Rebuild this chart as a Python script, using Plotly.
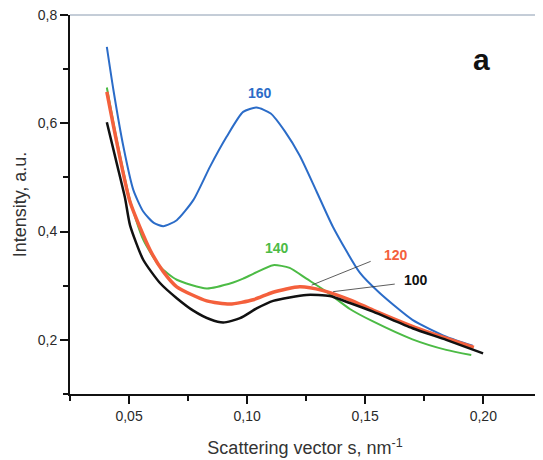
import plotly.graph_objects as go

# ---- data ----
s_160 = [0.0406, 0.0434, 0.0476, 0.0518, 0.0560, 0.0605, 0.0645, 0.0702, 0.0772, 0.0843, 0.0913,
         0.0983, 0.104, 0.110, 0.116, 0.1223, 0.1293, 0.1363, 0.1477, 0.156, 0.170, 0.1843, 0.1955]
i_160 = [0.741, 0.661, 0.557, 0.477, 0.437, 0.416, 0.410, 0.421, 0.458, 0.520, 0.575,
         0.621, 0.629, 0.618, 0.585, 0.540, 0.475, 0.409, 0.324, 0.287, 0.237, 0.206, 0.189]

s_140 = [0.0406, 0.0448, 0.0504, 0.056, 0.0631, 0.0702, 0.0829, 0.0941, 0.0983, 0.1026,
         0.111, 0.118, 0.1251, 0.1336, 0.1435, 0.1533, 0.170, 0.1843, 0.1949]
i_140 = [0.666, 0.569, 0.458, 0.385, 0.335, 0.311, 0.295, 0.306, 0.313, 0.322,
         0.338, 0.333, 0.313, 0.289, 0.257, 0.234, 0.201, 0.1815, 0.172]

s_120 = [0.0406, 0.0448, 0.0504, 0.0589, 0.0645, 0.0702, 0.0829, 0.0927, 0.1026,
         0.111, 0.1223, 0.1322, 0.1435, 0.1533, 0.170, 0.1843, 0.196]
i_120 = [0.658, 0.565, 0.455, 0.366, 0.326, 0.298, 0.272, 0.266, 0.274,
         0.288, 0.298, 0.291, 0.274, 0.255, 0.225, 0.203, 0.186]

s_100 = [0.0406, 0.0448, 0.0483, 0.0504, 0.056, 0.0631, 0.0702, 0.0772, 0.0843, 0.0899,
         0.097, 0.104, 0.111, 0.1251, 0.135, 0.1435, 0.1533, 0.170, 0.1843, 0.1999]
i_100 = [0.602, 0.526, 0.462, 0.412, 0.348, 0.305, 0.277, 0.254, 0.238, 0.232,
         0.240, 0.258, 0.272, 0.283, 0.281, 0.268, 0.252, 0.2215, 0.200, 0.175]

series_names = ["160", "140", "120", "100"]
series_colors = ["#2b6cc8", "#4cbb45", "#f4603c", "#111111"]
series_widths = [2, 2, 3.5, 2.5]

# label positions (data units)
label_s = [0.1054, 0.1126, 0.163, 0.1714]
label_i = [0.656, 0.370, 0.357, 0.311]

# callout lines for 120 and 100: (s0, i0, s1, i1)
callout_120 = (0.1523, 0.345, 0.1273, 0.301)
callout_100 = (0.1625, 0.303, 0.1364, 0.289)

x_range = [0.025, 0.224]
y_range = [0.1, 0.8]

fig = go.Figure()
for xs, ys, name, col, w in zip([s_160, s_140, s_120, s_100], [i_160, i_140, i_120, i_100],
                                series_names, series_colors, series_widths):
    fig.add_trace(go.Scatter(x=xs, y=ys, mode="lines", name=name,
                             line=dict(color=col, width=w, shape="spline", smoothing=0.6),
                             showlegend=False))

for name, col, lx, ly in zip(series_names, series_colors, label_s, label_i):
    fig.add_annotation(x=lx, y=ly, text=f"<b>{name}</b>", showarrow=False,
                       font=dict(family="Liberation Sans, Arial", size=14, color=col))

for c in (callout_120, callout_100):
    fig.add_shape(type="line", x0=c[0], y0=c[1], x1=c[2], y1=c[3], xref="x", yref="y",
                  line=dict(color="#333333", width=0.8))

fig.add_annotation(x=0.1992, y=0.717, text="<b>a</b>", showarrow=False,
                   font=dict(family="Liberation Sans, Arial", size=30, color="#111111"))

# thin top / right frame
fig.add_shape(type="line", xref="paper", yref="paper", x0=0, x1=1, y0=1, y1=1,
              line=dict(color="#8a9bb0", width=1))
fig.add_shape(type="line", xref="paper", yref="paper", x0=1, x1=1, y0=0, y1=1,
              line=dict(color="#8a9bb0", width=1))

axis_font = dict(family="Liberation Sans, Arial", size=14, color="#2a2a2a")
title_font = dict(family="Liberation Sans, Arial", size=18, color="#333333")
fig.update_xaxes(range=x_range, tick0=0.05, dtick=0.05, tickformat=".2f", automargin=False,
                 ticklabeloverflow="allow",
                 showgrid=False, zeroline=False, showline=True, linecolor="#111111",
                 linewidth=2, ticks="outside", ticklen=8, tickwidth=2, tickcolor="#111111",
                 minor=dict(dtick=0.025, tick0=0.025, ticks="outside", ticklen=5,
                            tickwidth=1.5, tickcolor="#111111", showgrid=False),
                 tickfont=axis_font,
                 title=dict(text="Scattering vector s, nm<sup>-1</sup>",
                            font=title_font, standoff=19))
fig.update_yaxes(range=y_range, tick0=0.2, dtick=0.2, tickformat=".1f", automargin=False,
                 ticklabeloverflow="allow",
                 showgrid=False, zeroline=False, showline=True, linecolor="#111111",
                 linewidth=2, ticks="outside", ticklen=8, tickwidth=2, tickcolor="#111111",
                 minor=dict(dtick=0.1, tick0=0.1, ticks="outside", ticklen=5,
                            tickwidth=1.5, tickcolor="#111111", showgrid=False),
                 tickfont=axis_font,
                 title=dict(text="Intensity, a.u.", font=title_font, standoff=6))

# the page adds an 8 px body margin; margins compensate so the plot area lands where the reference has it
fig.update_layout(width=543, height=460, separators=",.",
                  margin=dict(l=62, r=11, t=7, b=74),
                  paper_bgcolor="white", plot_bgcolor="white")

fig.write_html("out.html")
